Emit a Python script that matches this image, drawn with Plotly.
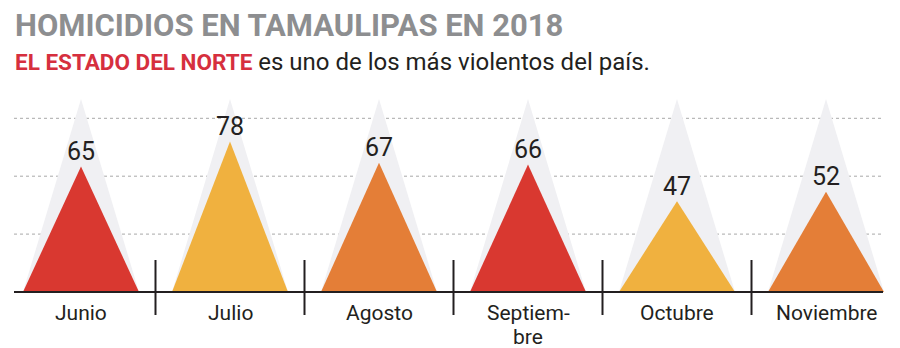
import plotly.graph_objects as go

months = ["Junio", "Julio", "Agosto", "Septiembre", "Octubre", "Noviembre"]
month_labels = ["Junio", "Julio", "Agosto", "Septiem-<br>bre", "Octubre", "Noviembre"]
homicidios = [65, 78, 67, 66, 47, 52]
colors = ["#d93830", "#f0b13f", "#e47e37", "#d93830", "#f0b13f", "#e47e37"]
backdrop_value = 100
grid_values = [30, 60, 90]

title = "HOMICIDIOS EN TAMAULIPAS EN 2018"
subtitle_bold = "EL ESTADO DEL NORTE"
subtitle_rest = " es uno de los más violentos del país."

W, H = 900, 348
px_per_unit = 1.93
baseline_px = 292
center0_px, step_px = 81, 149
half_w = 58 / step_px

x_range = [-center0_px / step_px, (W - center0_px) / step_px]
y_range = [-(H - baseline_px) / px_per_unit, baseline_px / px_per_unit]

fig = go.Figure()

# light gray backdrop triangles
for i, m in enumerate(months):
    fig.add_trace(go.Scatter(
        x=[i - half_w, i, i + half_w, i - half_w],
        y=[0, backdrop_value, 0, 0],
        fill="toself", fillcolor="#f0f0f3", mode="lines",
        line=dict(width=0, color="#f0f0f3"), hoverinfo="skip", showlegend=False))

# coloured triangles
for i, (m, v, c) in enumerate(zip(months, homicidios, colors)):
    fig.add_trace(go.Scatter(
        x=[i - half_w, i, i + half_w, i - half_w],
        y=[0, v, 0, 0],
        fill="toself", fillcolor=c, mode="lines",
        line=dict(width=0, color=c), name=m, hoverinfo="name+y", showlegend=False))

shapes = []
# dotted gridlines
for g in grid_values:
    shapes.append(dict(type="line", xref="paper", yref="y", x0=14 / W, x1=883 / W,
                       y0=g, y1=g, layer="below",
                       line=dict(color="#a8a8a8", width=1, dash="dot")))
# baseline
shapes.append(dict(type="line", xref="paper", yref="y", x0=14 / W, x1=883 / W,
                   y0=0, y1=0, line=dict(color="#231f20", width=2.2)))
# separators
for i in range(len(months) - 1):
    shapes.append(dict(type="line", xref="x", yref="y", x0=i + 0.5, x1=i + 0.5,
                       y0=32 / px_per_unit, y1=-23 / px_per_unit,
                       line=dict(color="#231f20", width=2)))

label_font = dict(family="Roboto", size=21, color="#231f20")
annotations = []
for i, (v, lab) in enumerate(zip(homicidios, month_labels)):
    annotations.append(dict(x=i, y=v, xref="x", yref="y", text=str(v), showarrow=False,
                            yanchor="middle", yshift=15,
                            font=dict(family="Roboto", size=25, color="#231f20")))
    for k, line in enumerate(lab.split("<br>")):
        annotations.append(dict(x=i, y=0, xref="x", yref="y", text=line,
                                showarrow=False, yanchor="middle", yshift=-(21 + 24 * k),
                                font=label_font))

annotations.append(dict(x=13 / W, y=1 - 25 / H, xref="paper", yref="paper", xanchor="left",
                        yanchor="middle", showarrow=False, text="<b>" + title + "</b>",
                        font=dict(family="Roboto", size=31, color="#8d8e90")))
annotations.append(dict(x=13 / W, y=1 - 62 / H, xref="paper", yref="paper", xanchor="left",
                        yanchor="middle", showarrow=False,
                        text="<b><span style='color:#d62f3e;font-size:22.5px'>" + subtitle_bold
                             + "</span></b>" + subtitle_rest,
                        font=dict(family="Roboto", size=24, color="#231f20")))

fig.update_layout(
    width=W, height=H, margin=dict(l=0, r=0, t=0, b=0),
    paper_bgcolor="white", plot_bgcolor="white",
    xaxis=dict(range=x_range, visible=False, fixedrange=True),
    yaxis=dict(range=y_range, visible=False, fixedrange=True),
    shapes=shapes, annotations=annotations,
)

fig.write_html("out.html")
